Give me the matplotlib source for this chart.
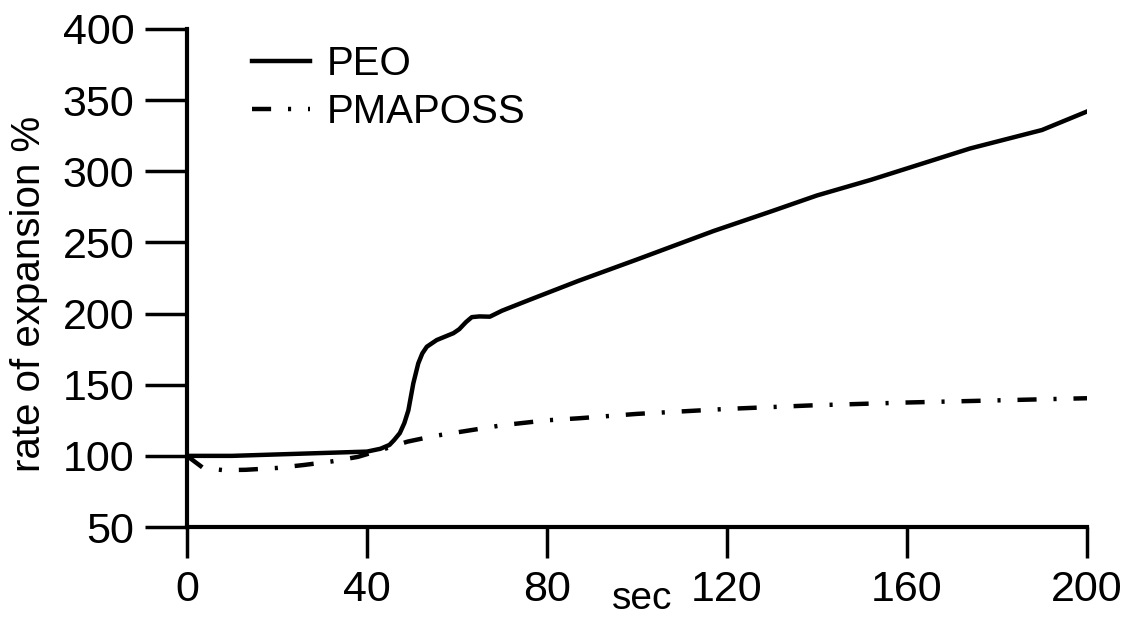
import matplotlib
matplotlib.use("Agg")
import matplotlib.pyplot as plt

plt.rcParams['font.family'] = ['Liberation Sans', 'DejaVu Sans']

# PEO expansion curve (sec, %)
peo_sec = [0, 5, 10, 20, 30, 40, 43, 45, 46, 47.3, 48.3, 49.2, 50.3, 51.4, 52.3, 53.3,
           55.5, 57.5, 59.2, 60.5, 62, 63.3, 65, 67.3, 70, 76, 87, 100, 117, 130, 140,
           152, 160, 174, 190, 200]
peo_val = [100, 100, 100, 101, 102, 103, 105, 107.7, 111, 116, 123, 132, 151, 165, 172,
           176.7, 181.4, 184, 186.2, 189, 194, 197.5, 198, 197.8, 202, 209.5, 223, 238,
           258, 272, 283, 294, 302, 316, 329, 342]

# PMAPOSS expansion curve (sec, %)
pmaposs_sec = [0, 3.6, 8, 13, 20, 26, 32, 38, 44, 49, 55, 61, 70, 80, 87, 100, 120,
               139, 160, 180, 200]
pmaposs_val = [100, 91.5, 90, 90.2, 91.5, 93.6, 96, 99.3, 105, 110, 114, 117, 121.5,
               125, 126.4, 129.5, 133, 135.5, 137.5, 139, 140.5]

x_ticks = [0, 40, 80, 120, 160, 200]
y_ticks = [50, 100, 150, 200, 250, 300, 350, 400]

fig = plt.figure(figsize=(11.29, 6.19), dpi=100)
ax = fig.add_axes([0.1656, 0.1486, 0.7972, 0.8046])

ax.plot(peo_sec, peo_val, color='black', lw=3.2, label='PEO')
ax.plot(pmaposs_sec, pmaposs_val, color='black', lw=3.2,
        dashes=(4.3, 3.8, 0.7, 3.8), label='PMAPOSS')

ax.set_xlim(0, 200)
ax.set_ylim(50, 400)
ax.set_xticks(x_ticks)
ax.set_yticks(y_ticks)

for side in ['top', 'right']:
    ax.spines[side].set_visible(False)
for side in ['left', 'bottom']:
    ax.spines[side].set_linewidth(3)

ax.tick_params(axis='y', length=30, width=2.5, pad=8, labelsize=31)
ax.tick_params(axis='x', length=22, width=2.5, pad=9, labelsize=31)

# axis labels, placed where the reference has them
ax.set_ylabel('rate of expansion %', fontsize=29)
ax.yaxis.label.set_va('center')
ax.yaxis.set_label_coords(-0.1756, 0.468)
ax.set_xlabel('sec', fontsize=28)
ax.xaxis.label.set_va('bottom')
ax.xaxis.set_label_coords(0.506, -0.18)

ax.legend(loc='upper left', bbox_to_anchor=(0.054, 1.0), frameon=False,
          fontsize=29, handlelength=1.44, handletextpad=0.42,
          labelspacing=0.25, borderaxespad=0)

fig.savefig('out.png', dpi=100, facecolor='white')
